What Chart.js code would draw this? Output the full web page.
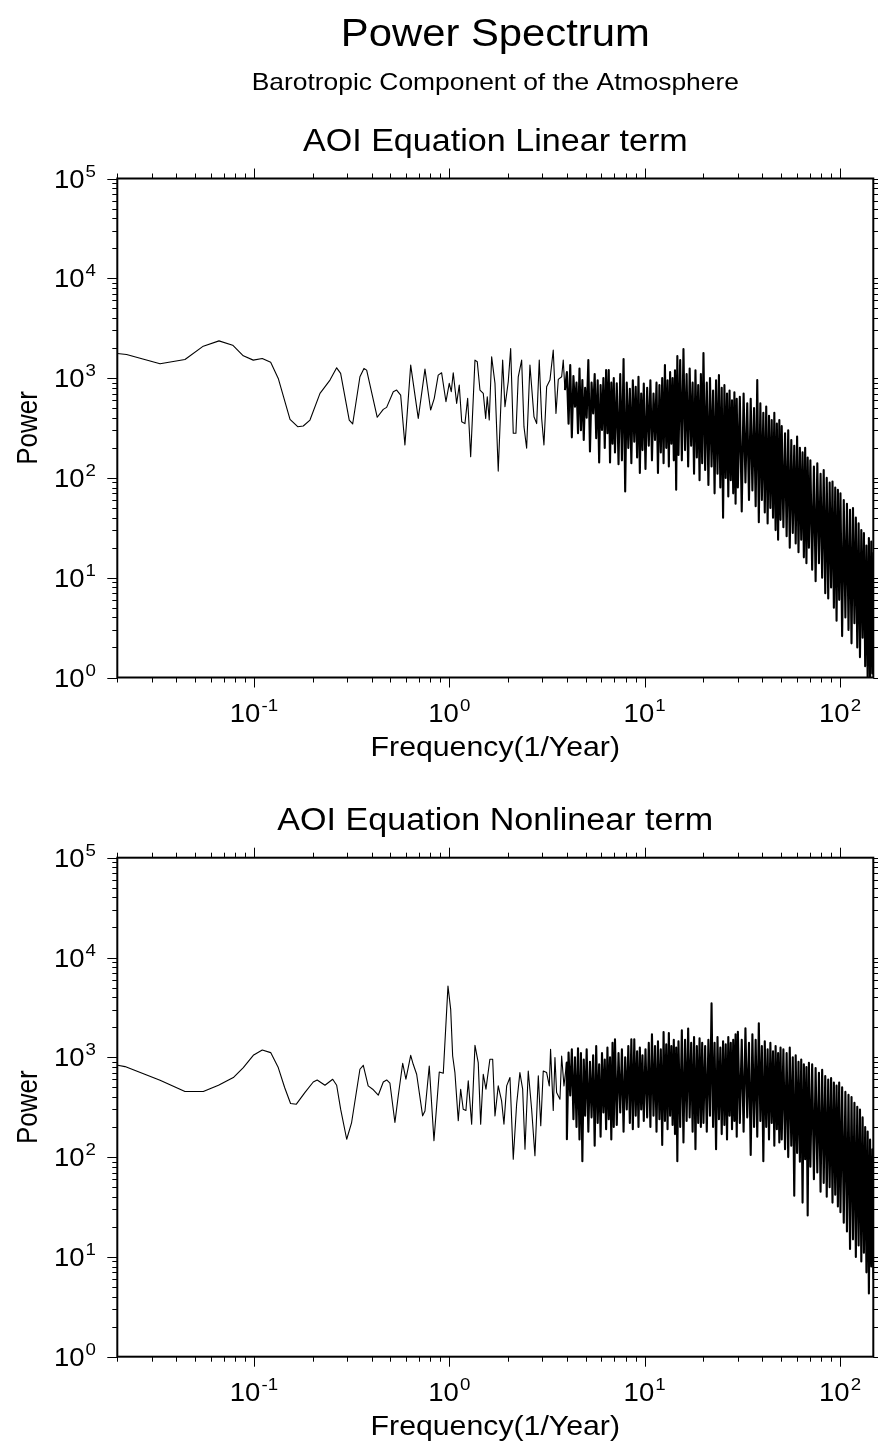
<!DOCTYPE html>
<html><head><meta charset="utf-8">
<script src="https://cdn.jsdelivr.net/npm/chart.js@4.4.1/dist/chart.umd.min.js"></script>
<style>
html,body{margin:0;padding:0;background:#fff;}
#wrap{position:relative;width:878px;height:1448px;overflow:hidden;background:#fff;}
canvas{position:absolute;left:0;}
</style></head><body>
<div id="wrap">
<canvas id="c1" width="878" height="790" style="top:0;width:878px;height:790px"></canvas>
<canvas id="c2" width="878" height="658" style="top:790px;width:878px;height:658px"></canvas>
</div>
<script>
// ---------- texts ----------
const mainTitle = 'Power Spectrum';
const subTitle = 'Barotropic Component of the Atmosphere';
const panelTitles = ['AOI Equation Linear term', 'AOI Equation Nonlinear term'];
const xAxisTitle = 'Frequency(1/Year)';
const yAxisTitle = 'Power';
const xTickExponents = [-1, 0, 1, 2];
const yTickExponents = [0, 1, 2, 3, 4, 5];
const xRange = [0.02, 148];
const yRange = [1, 100000];

// ---------- linear term: resolved low-frequency part ----------
const linearFreq = [0.0200,0.0223,0.0331,0.0444,0.0551,0.0663,0.0779,0.0883,0.0993,0.1104,0.1219,0.1333,0.1531,0.1676,0.179,0.1937,0.218,0.2452,0.2653,0.278,0.3077,0.3204,0.349,0.366,0.3778,0.428,0.4595,0.478,0.517,0.538,0.564,0.593,0.6348,0.694,0.751,0.803,0.838,0.878,0.914,0.962,1.0,1.024,1.048,1.091,1.125,1.158,1.203,1.242,1.287,1.354,1.391,1.436,1.493,1.536,1.565,1.602,1.648,1.714,1.781,1.876,1.928,2.004,2.062,2.126,2.194,2.255,2.347,2.412,2.489,2.588,2.714,2.802,2.888,2.971,3.052,3.151,3.276,3.406,3.517,3.614,3.761,3.832,3.909];
const linearPower = [1766,1726,1390,1538,2089,2360,2138,1671,1514,1574,1440,993,386,326,331,380,703,955,1268,1114,380,347,1031,1250,1202,405,486,509,730,759,676,214,1349,395,1230,479,627,1072,1130,580,885,730,1130,558,851,366,350,627,163,1514,1459,759,704,395,651,380,1634,885,117,1514,517,919,1982,280,280,1031,1514,326,198,1349,410,350,1514,395,214,818,955,1905,443,970,1031,1514,759];

// ---------- nonlinear term: resolved low-frequency part ----------
const nonlinearFreq = [0.0201,0.0219,0.0331,0.0444,0.0551,0.0659,0.0785,0.0883,0.0993,0.1104,0.1219,0.1333,0.1437,0.1541,0.165,0.1823,0.2013,0.2109,0.2311,0.2532,0.2653,0.278,0.2986,0.3164,0.349,0.3631,0.3846,0.4056,0.4331,0.4596,0.4782,0.497,0.5271,0.548,0.5777,0.600,0.6348,0.654,0.681,0.7307,0.751,0.790,0.835,0.889,0.932,0.985,1.017,1.041,1.069,1.112,1.144,1.179,1.217,1.251,1.302,1.354,1.407,1.448,1.493,1.541,1.614,1.668,1.714,1.781,1.853,1.905,1.967,2.045,2.126,2.212,2.299,2.375,2.441,2.537,2.64,2.745,2.856,2.94,3.027,3.151,3.25,3.30,3.406,3.475,3.544,3.686,3.760,3.864,3.988];
const nonlinearPower = [832,807,589,454,454,525,627,789,1047,1183,1114,789,498,344,339,443,566,593,525,603,525,302,151,222,759,832,517,479,417,566,593,550,222,410,871,603,1047,851,676,259,290,818,146,713,692,5164,3020,1031,703,231,479,302,293,580,214,1318,885,214,676,479,955,955,259,517,366,214,517,627,95,339,703,479,120,730,302,103,652,206,730,703,517,1202,293,994,443,380,1031,517,885];

// ---------- dense high-frequency band (shared frequencies, alternating peaks / troughs) ----------
const bandFreq = [
 4.00,4.08,4.16,4.24,4.32,4.40,4.48,4.56,4.64,4.72,4.80,4.88,4.96,
 5.05,5.15,5.25,5.35,5.45,5.55,5.65,5.75,5.85,5.95,6.05,6.15,6.25,6.35,6.45,6.55,6.65,6.75,6.85,6.95,
 7.05,7.2,7.35,7.5,7.65,7.8,7.95,8.1,8.25,8.4,8.55,8.7,8.85,9.0,9.15,9.3,9.45,9.6,9.75,9.9,
 10.1,10.3,10.5,10.7,10.9,11.1,11.3,11.5,11.7,11.9,12.1,12.3,12.5,12.7,12.9,13.1,13.3,13.5,13.7,13.9,14.1,14.3,14.5,14.7,14.9,
 15.2,15.5,15.8,16.1,16.4,16.7,17.0,17.3,17.6,17.9,18.2,18.5,18.8,19.1,19.4,19.7,
 20.0,20.4,20.8,21.2,21.6,22.0,22.4,22.8,23.2,23.6,24.0,24.4,24.8,25.2,25.6,26.0,26.4,26.8,27.2,27.6,28.0,28.4,28.8,29.2,29.6,
 30.0,30.7,31.4,32.1,32.8,33.5,34.2,34.9,35.6,36.3,37.0,37.7,38.4,39.1,39.8,40.5,41.2,41.9,42.6,43.3,44.0,44.7,45.4,46.1,46.8,47.5,48.2,48.9,49.6,
 50.3,51.3,52.3,53.3,54.3,55.3,56.3,57.3,58.3,59.3,60.3,61.3,62.3,63.3,64.3,65.3,66.3,67.3,68.3,69.3,
 70.5,72,73.5,75,76.5,78,79.5,81,82.5,84,85.5,87,88.5,90,91.5,93,94.5,96,97.5,99,
 100.5,102.5,104.5,106.5,108.5,110.5,112.5,114.5,116.5,118.5,120.5,122.5,124.5,126.5,128.5,130.5,132.5,134.5,136.5,138.5,140.5,142.5,144.5,146.5,148.5];
const linearBand = [
 1150,350,1349,255,1050,517,900,280,1250,300,955,240,800,
 400,1514,184,900,443,1100,250,950,143,850,302,1000,200,1202,280,1202,143,900,220,1000,
 180,885,137,1100,150,1550,73,900,200,780,140,950,230,820,160,1030,112,700,190,880,
 123,800,210,950,150,700,240,900,112,850,180,1000,140,1350,200,950,130,1150,220,1000,150,1200,76,1660,170,
 1514,150,1950,190,1100,130,1250,210,900,110,1200,160,850,95,1100,140,
 1780,120,900,85,1000,130,750,70,950,110,1070,80,800,40,850,100,700,65,750,95,600,70,720,55,620,
 80,650,46,700,90,560,60,620,75,500,52,955,36,560,60,450,45,520,35,420,50,380,40,450,30,350,24,380,38,
 330,32,280,26,300,20,240,28,210,22,260,18,200,24,180,16,200,14,160,20,
 150,12,130,9.2,140,14,110,10,120,7,100,6.2,90,8,92,5,80,3.7,76,6,
 70,2.6,60,4,55,3,48,2.2,50,3.5,40,2,35,1.6,30,2.5,28,1.3,21,0.9,25,0.8,23,1.1,18];
const nonlinearBand = [
 151,1114,414,1202,240,1000,200,1230,150,1100,91,950,260,
 1200,180,900,250,1050,130,1300,220,850,160,1100,280,950,190,1250,240,1000,150,1400,200,
 1514,210,1100,280,1200,180,1000,300,1300,220,1514,190,1514,260,1150,200,1250,300,1050,230,
 1200,250,1400,200,1700,260,1300,180,1450,240,1200,132,1790,230,1350,190,1750,260,1300,210,1500,170,1250,91,1450,
 200,1862,140,1500,230,1945,250,1400,180,1600,120,1300,220,1550,200,1400,
 220,1300,180,1500,260,3467,200,1400,120,1600,240,1250,170,1450,210,1350,150,1600,260,1400,190,1500,230,1700,160,
 1800,220,1500,180,1950,250,1400,105,1700,200,1500,160,2190,230,1300,91,1450,200,1200,150,1400,220,1150,130,1300,190,1100,140,1250,
 150,1200,120,1100,100,1250,130,1000,41,1050,110,900,90,950,35,850,95,800,26,880,
 80,850,60,780,70,700,45,750,55,650,40,600,50,620,35,560,42,520,32,560,
 28,500,22,450,18,420,12,400,15,350,10,320,13,300,9,250,11,200,7,180,4.3,150,8,120,6];

// ---------- helpers ----------
const FAM = '"Liberation Sans", Arial, Helvetica, sans-serif';
const F = s => s + 'px ' + FAM;
const SX = 1.1; // horizontal stretch of lettering in the original

function pts(f, p) { return f.map((x, i) => ({ x: x, y: p[i] })); }

function sText(ctx, txt, x, y, size, align) {
  ctx.save();
  ctx.font = F(size);
  const w = ctx.measureText(txt).width * SX;
  let x0 = align === 'center' ? x - w / 2 : (align === 'right' ? x - w : x);
  ctx.translate(x0, y); ctx.scale(SX, 1);
  ctx.textAlign = 'left'; ctx.textBaseline = 'alphabetic';
  ctx.fillText(txt, 0, 0);
  ctx.restore();
}
function powLabel(ctx, exp, x, y, align) {
  const base = '10', sup = String(exp);
  ctx.save();
  ctx.font = F(25); const w1 = ctx.measureText(base).width;
  ctx.font = F(17); const w2 = ctx.measureText(sup).width;
  const total = (w1 + 1 + w2) * SX;
  const x0 = align === 'center' ? x - total / 2 : x - total;
  ctx.translate(x0, y); ctx.scale(SX, 1);
  ctx.textAlign = 'left'; ctx.textBaseline = 'alphabetic';
  ctx.font = F(25); ctx.fillText(base, 0, 0);
  ctx.font = F(17); ctx.fillText(sup, w1 + 1, -11);
  ctx.restore();
}

const axisDecor = {
  id: 'axisDecor',
  afterDraw(chart, args, opts) {
    const ctx = chart.ctx, a = chart.chartArea, xs = chart.scales.x, ys = chart.scales.y;
    ctx.save();
    ctx.fillStyle = '#000'; ctx.strokeStyle = '#000';
    // tick marks (outward, on all four sides)
    ctx.lineWidth = 1;
    ctx.beginPath();
    for (let e = -2; e <= 2; e++) for (let m = 1; m <= 9; m++) {
      const v = m * Math.pow(10, e);
      if (v < xRange[0] * 0.999 || v > xRange[1]) continue;
      const px = Math.round(xs.getPixelForValue(v)) + 0.5, len = m === 1 ? 10 : 5;
      ctx.moveTo(px, a.bottom); ctx.lineTo(px, a.bottom + len);
      ctx.moveTo(px, a.top); ctx.lineTo(px, a.top - len);
    }
    for (let e = 0; e <= 5; e++) for (let m = 1; m <= 9; m++) {
      const v = m * Math.pow(10, e);
      if (v > yRange[1] * 1.001) continue;
      const py = Math.round(ys.getPixelForValue(v)) + 0.5, len = m === 1 ? 10 : 5;
      ctx.moveTo(a.left, py); ctx.lineTo(a.left - len, py);
      ctx.moveTo(a.right, py); ctx.lineTo(a.right + len, py);
    }
    ctx.stroke();
    // frame
    ctx.lineWidth = 2;
    ctx.strokeRect(a.left, a.top, a.right - a.left, a.bottom - a.top);
    // tick labels
    xTickExponents.forEach(e => powLabel(ctx, e, xs.getPixelForValue(Math.pow(10, e)), a.bottom + 44, 'center'));
    yTickExponents.forEach(e => powLabel(ctx, e, 96, ys.getPixelForValue(Math.pow(10, e)) + 9, 'right'));
    // axis titles
    const cx = (a.left + a.right) / 2;
    sText(ctx, xAxisTitle, cx, a.bottom + 78, 27.5, 'center');
    ctx.save();
    ctx.font = F(26);
    const wy = ctx.measureText(yAxisTitle).width;
    ctx.translate(37, (a.top + a.bottom) / 2); ctx.rotate(-Math.PI / 2); ctx.scale(1, SX);
    ctx.textBaseline = 'alphabetic'; ctx.fillText(yAxisTitle, -wy / 2, 0);
    ctx.restore();
    // titles
    sText(ctx, opts.panelTitle, cx, a.top - 28, 31, 'center');
    if (opts.showMain) {
      sText(ctx, mainTitle, cx, 46, 38, 'center');
      sText(ctx, subTitle, cx, 90, 24, 'center');
    }
    ctx.restore();
  }
};

function makeChart(id, low, band, pad, title, showMain) {
  return new Chart(document.getElementById(id), {
    type: 'scatter',
    data: { datasets: [
      { data: low, showLine: true, borderColor: '#000', borderWidth: 1.1,
        pointRadius: 0, pointHoverRadius: 0, tension: 0, fill: false, borderJoinStyle: 'round' },
      { data: band, showLine: true, borderColor: '#000', borderWidth: 2.1,
        pointRadius: 0, pointHoverRadius: 0, tension: 0, fill: false, borderJoinStyle: 'round' }
    ] },
    options: {
      responsive: false, maintainAspectRatio: false, animation: false, events: [],
      layout: { padding: pad },
      plugins: { legend: { display: false }, tooltip: { enabled: false }, title: { display: false },
        axisDecor: { panelTitle: title, showMain: showMain } },
      scales: {
        x: { type: 'logarithmic', min: xRange[0], max: xRange[1], display: false },
        y: { type: 'logarithmic', min: yRange[0], max: yRange[1], display: false }
      }
    },
    plugins: [axisDecor]
  });
}

const lin = pts(linearFreq, linearPower), linB = pts(bandFreq, linearBand);
const non = pts(nonlinearFreq, nonlinearPower), nonB = pts(bandFreq, nonlinearBand);
makeChart('c1', lin, [lin[lin.length - 1]].concat(linB),
  { left: 117.3, right: 4.7, top: 178.5, bottom: 112.5 }, panelTitles[0], true);
makeChart('c2', non, [non[non.length - 1]].concat(nonB),
  { left: 117.3, right: 4.7, top: 67.7, bottom: 91.3 }, panelTitles[1], false);
</script>
</body></html>
